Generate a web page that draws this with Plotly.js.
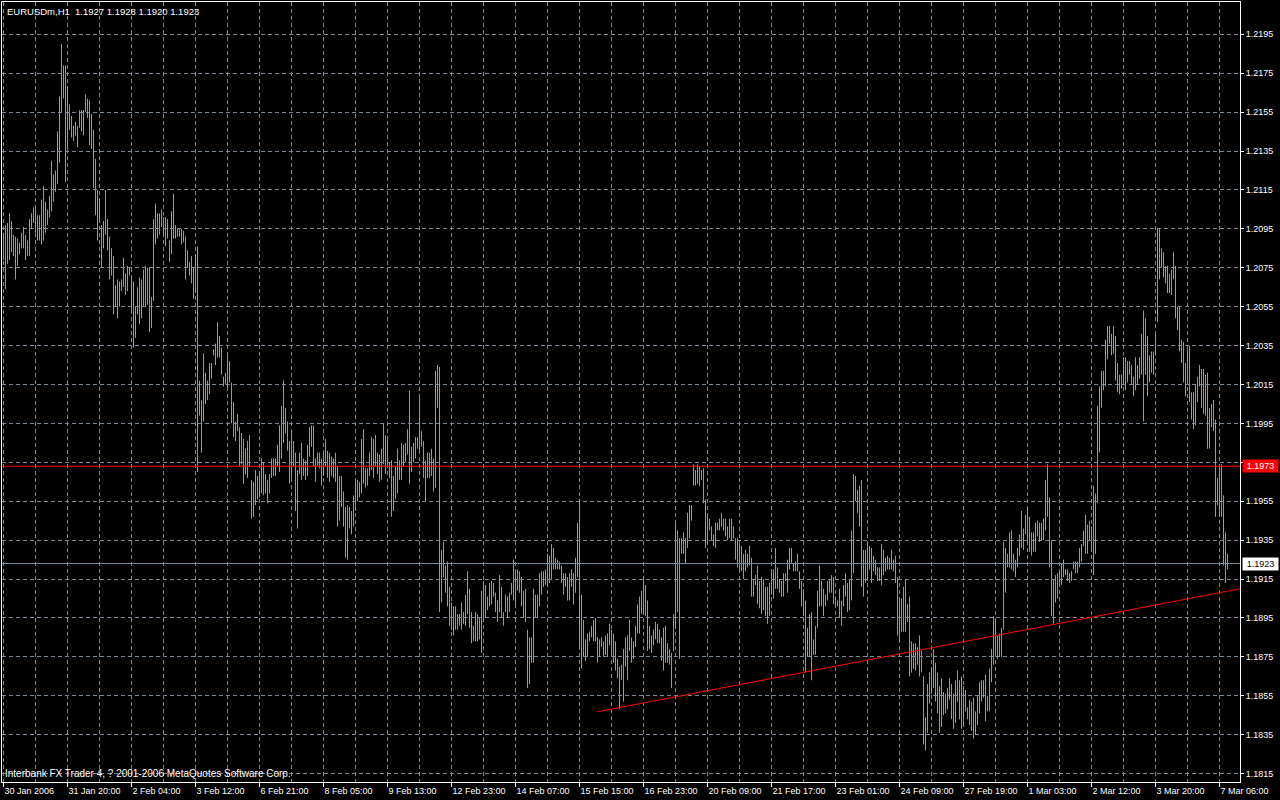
<!DOCTYPE html>
<html><head><meta charset="utf-8">
<script src="https://cdn.plot.ly/plotly-3.0.1.min.js"></script>
<style>html,body{margin:0;padding:0;background:#000;overflow:hidden}#chart{width:1280px;height:800px}</style>
</head><body><div id="chart"></div>
<script>
const headerText = "EURUSDm,H1\u00A0 1.1927 1.1928 1.1920 1.1923";
const footerText = "Interbank FX Trader 4, ? 2001-2006 MetaQuotes Software Corp.";

// hourly bar highs (bar 0 = first bar on the chart)
const highs = [
1.2093,1.2097,1.2098,1.2103,1.2099,1.2092,1.2091,1.2090,1.2088,1.2093,
1.2096,1.2092,1.2089,1.2100,1.2103,1.2106,1.2107,1.2102,1.2102,1.2110,
1.2117,1.2109,1.2105,1.2112,1.2130,1.2123,1.2125,1.2145,1.2163,1.2190,
1.2179,1.2179,1.2168,1.2159,1.2153,1.2148,1.2150,1.2148,1.2156,1.2156,
1.2156,1.2164,1.2162,1.2161,1.2154,1.2146,1.2131,1.2115,1.2110,1.2097,
1.2099,1.2115,1.2100,1.2091,1.2085,1.2081,1.2066,1.2069,1.2068,1.2069,
1.2080,1.2072,1.2076,1.2075,1.2070,1.2068,1.2055,1.2065,1.2070,1.2069,
1.2074,1.2076,1.2075,1.2075,1.2060,1.2100,1.2108,1.2103,1.2103,1.2105,
1.2101,1.2101,1.2100,1.2089,1.2104,1.2113,1.2097,1.2095,1.2095,1.2095,
1.2094,1.2091,1.2084,1.2078,1.2081,1.2075,1.2082,1.2086,1.2017,1.2007,
1.2031,1.2021,1.2017,1.2026,1.2026,1.2033,1.2036,1.2047,1.2040,1.2034,
1.2019,1.2021,1.2030,1.2027,1.2016,1.2006,1.1996,1.2000,1.1993,1.1990,
1.1987,1.1982,1.1986,1.1989,1.1966,1.1965,1.1971,1.1968,1.1969,1.1977,
1.1975,1.1969,1.1966,1.1969,1.1977,1.1977,1.1977,1.1984,1.1994,1.2004,
1.2017,1.2003,1.1996,1.1986,1.1991,1.1986,1.1980,1.1971,1.1980,1.1985,
1.1977,1.1976,1.1984,1.1993,1.1994,1.1994,1.1977,1.1980,1.1980,1.1977,
1.1980,1.1987,1.1981,1.1980,1.1978,1.1977,1.1980,1.1973,1.1968,1.1968,
1.1960,1.1952,1.1953,1.1952,1.1950,1.1958,1.1965,1.1966,1.1965,1.1987,
1.1992,1.1972,1.1972,1.1980,1.1988,1.1987,1.1989,1.1980,1.1979,1.1982,
1.1995,1.1989,1.1988,1.1975,1.1976,1.1968,1.1973,1.1982,1.1976,1.1985,
1.1984,1.1985,1.1992,1.2012,1.1983,1.1985,1.1988,1.1988,1.2008,1.1991,
1.1986,1.1976,1.1980,1.1980,1.1982,1.1977,1.2022,1.2025,1.2024,1.1930,
1.1934,1.1922,1.1924,1.1911,1.1903,1.1901,1.1901,1.1897,1.1897,1.1903,
1.1898,1.1907,1.1919,1.1910,1.1898,1.1891,1.1898,1.1897,1.1895,1.1909,
1.1914,1.1912,1.1906,1.1913,1.1914,1.1913,1.1908,1.1904,1.1917,1.1911,
1.1898,1.1907,1.1906,1.1908,1.1913,1.1925,1.1919,1.1920,1.1919,1.1916,
1.1909,1.1910,1.1889,1.1885,1.1885,1.1910,1.1907,1.1907,1.1918,1.1919,
1.1919,1.1920,1.1928,1.1927,1.1933,1.1931,1.1926,1.1925,1.1924,1.1922,
1.1918,1.1918,1.1916,1.1918,1.1920,1.1918,1.1926,1.1944,1.1956,1.1907,
1.1894,1.1884,1.1887,1.1888,1.1891,1.1894,1.1895,1.1885,1.1884,1.1885,
1.1883,1.1886,1.1887,1.1892,1.1889,1.1887,1.1883,1.1874,1.1870,1.1871,
1.1879,1.1885,1.1886,1.1894,1.1885,1.1883,1.1891,1.1902,1.1906,1.1909,
1.1916,1.1912,1.1904,1.1891,1.1886,1.1889,1.1893,1.1892,1.1889,1.1885,
1.1890,1.1891,1.1882,1.1879,1.1877,1.1897,1.1944,1.1940,1.1936,1.1936,
1.1939,1.1936,1.1949,1.1953,1.1953,1.1974,1.1971,1.1974,1.1973,1.1971,
1.1972,1.1956,1.1948,1.1946,1.1942,1.1938,1.1944,1.1944,1.1946,1.1949,
1.1946,1.1946,1.1942,1.1946,1.1946,1.1942,1.1936,1.1936,1.1933,1.1932,
1.1928,1.1930,1.1928,1.1932,1.1926,1.1915,1.1917,1.1922,1.1914,1.1916,
1.1915,1.1911,1.1911,1.1913,1.1919,1.1920,1.1931,1.1921,1.1915,1.1914,
1.1918,1.1918,1.1925,1.1931,1.1931,1.1923,1.1924,1.1928,1.1919,1.1914,
1.1910,1.1904,1.1890,1.1897,1.1898,1.1884,1.1891,1.1909,1.1922,1.1914,
1.1910,1.1907,1.1914,1.1915,1.1917,1.1916,1.1906,1.1904,1.1910,1.1904,
1.1912,1.1918,1.1913,1.1915,1.1940,1.1969,1.1968,1.1961,1.1963,1.1966,
1.1930,1.1930,1.1934,1.1932,1.1931,1.1927,1.1925,1.1921,1.1921,1.1933,
1.1930,1.1926,1.1927,1.1926,1.1930,1.1925,1.1927,1.1916,1.1905,1.1905,
1.1911,1.1915,1.1902,1.1906,1.1883,1.1882,1.1882,1.1880,1.1886,1.1878,
1.1865,1.1844,1.1861,1.1867,1.1869,1.1879,1.1872,1.1867,1.1860,1.1864,
1.1857,1.1856,1.1859,1.1864,1.1861,1.1856,1.1863,1.1868,1.1863,1.1865,
1.1860,1.1858,1.1849,1.1853,1.1852,1.1854,1.1847,1.1855,1.1862,1.1863,
1.1863,1.1866,1.1855,1.1869,1.1879,1.1896,1.1894,1.1886,1.1887,1.1890,
1.1934,1.1931,1.1928,1.1939,1.1940,1.1928,1.1925,1.1931,1.1938,1.1950,
1.1941,1.1948,1.1951,1.1947,1.1939,1.1939,1.1944,1.1945,1.1944,1.1944,
1.1946,1.1966,1.1974,1.1957,1.1935,1.1915,1.1917,1.1918,1.1919,1.1923,
1.1925,1.1920,1.1920,1.1918,1.1919,1.1924,1.1924,1.1924,1.1931,1.1933,
1.1940,1.1948,1.1943,1.1945,1.1942,1.1963,1.1959,1.2004,1.2014,1.2022,
1.2022,1.2038,1.2045,1.2045,1.2041,1.2045,1.2040,1.2026,1.2020,1.2020,
1.2029,1.2029,1.2027,1.2027,1.2025,1.2019,1.2029,1.2025,1.2029,1.2041,
1.2053,1.2049,1.2040,1.2030,1.2032,1.2032,1.2041,1.2095,1.2095,1.2085,
1.2083,1.2076,1.2076,1.2072,1.2074,1.2083,1.2076,1.2055,1.2055,1.2038,
1.2037,1.2026,1.2033,1.2035,1.2011,1.2011,1.2015,1.2019,1.2025,1.2023,
1.2023,1.2020,1.2021,1.2003,1.2005,1.2007,1.1997,1.1967,1.1972,1.1974,
1.1958,1.1939,1.1928
];

// hourly bar lows
const lows = [
1.2079,1.2064,1.2077,1.2079,1.2083,1.2081,1.2069,1.2076,1.2082,1.2085,
1.2085,1.2079,1.2081,1.2081,1.2095,1.2098,1.2093,1.2089,1.2089,1.2087,
1.2089,1.2093,1.2097,1.2101,1.2104,1.2109,1.2114,1.2118,1.2129,1.2155,
1.2162,1.2119,1.2136,1.2146,1.2142,1.2140,1.2143,1.2137,1.2147,1.2145,
1.2143,1.2155,1.2152,1.2138,1.2136,1.2116,1.2102,1.2089,1.2099,1.2075,
1.2085,1.2092,1.2084,1.2069,1.2071,1.2051,1.2055,1.2049,1.2055,1.2063,
1.2065,1.2061,1.2063,1.2071,1.2053,1.2034,1.2039,1.2051,1.2046,1.2049,
1.2055,1.2055,1.2056,1.2042,1.2044,1.2058,1.2087,1.2090,1.2092,1.2096,
1.2091,1.2086,1.2090,1.2078,1.2082,1.2090,1.2090,1.2091,1.2091,1.2087,
1.2088,1.2069,1.2075,1.2071,1.2067,1.2059,1.2062,1.1970,1.1999,1.1980,
1.1996,1.2005,1.2007,1.2010,1.2018,1.2030,1.2025,1.2029,1.2029,1.2020,
1.2014,1.2015,1.2013,1.2016,1.1995,1.1988,1.1986,1.1991,1.1973,1.1974,
1.1964,1.1969,1.1967,1.1973,1.1946,1.1947,1.1953,1.1956,1.1957,1.1959,
1.1958,1.1959,1.1954,1.1959,1.1967,1.1968,1.1968,1.1973,1.1970,1.1977,
1.1985,1.1990,1.1981,1.1964,1.1967,1.1973,1.1950,1.1941,1.1969,1.1966,
1.1968,1.1966,1.1968,1.1978,1.1983,1.1973,1.1965,1.1973,1.1972,1.1963,
1.1968,1.1973,1.1967,1.1965,1.1968,1.1967,1.1965,1.1942,1.1945,1.1952,
1.1942,1.1926,1.1925,1.1941,1.1938,1.1942,1.1950,1.1955,1.1957,1.1959,
1.1964,1.1962,1.1963,1.1968,1.1971,1.1967,1.1973,1.1969,1.1965,1.1966,
1.1974,1.1969,1.1974,1.1967,1.1947,1.1950,1.1956,1.1959,1.1966,1.1966,
1.1973,1.1975,1.1979,1.1964,1.1970,1.1975,1.1977,1.1982,1.1981,1.1983,
1.1967,1.1955,1.1967,1.1967,1.1968,1.1960,1.1962,1.2003,1.1898,1.1903,
1.1916,1.1908,1.1901,1.1891,1.1889,1.1886,1.1889,1.1889,1.1891,1.1889,
1.1892,1.1891,1.1897,1.1890,1.1882,1.1883,1.1883,1.1883,1.1884,1.1877,
1.1893,1.1895,1.1899,1.1901,1.1902,1.1906,1.1898,1.1893,1.1898,1.1895,
1.1891,1.1898,1.1895,1.1898,1.1907,1.1904,1.1901,1.1909,1.1908,1.1901,
1.1895,1.1893,1.1859,1.1861,1.1872,1.1872,1.1895,1.1895,1.1901,1.1907,
1.1911,1.1912,1.1912,1.1913,1.1915,1.1920,1.1920,1.1920,1.1920,1.1913,
1.1907,1.1911,1.1904,1.1904,1.1911,1.1902,1.1908,1.1916,1.1880,1.1869,
1.1875,1.1873,1.1875,1.1883,1.1885,1.1883,1.1883,1.1872,1.1875,1.1880,
1.1875,1.1876,1.1875,1.1881,1.1876,1.1872,1.1868,1.1864,1.1848,1.1863,
1.1852,1.1870,1.1863,1.1878,1.1872,1.1874,1.1880,1.1887,1.1887,1.1897,
1.1898,1.1896,1.1878,1.1879,1.1877,1.1881,1.1884,1.1882,1.1882,1.1873,
1.1868,1.1872,1.1872,1.1871,1.1859,1.1878,1.1890,1.1898,1.1874,1.1928,
1.1928,1.1923,1.1931,1.1936,1.1945,1.1963,1.1963,1.1964,1.1963,1.1966,
1.1954,1.1931,1.1933,1.1940,1.1935,1.1932,1.1931,1.1940,1.1940,1.1942,
1.1940,1.1937,1.1935,1.1936,1.1935,1.1936,1.1925,1.1921,1.1920,1.1919,
1.1915,1.1919,1.1921,1.1922,1.1906,1.1906,1.1912,1.1902,1.1900,1.1897,
1.1899,1.1896,1.1892,1.1896,1.1907,1.1905,1.1910,1.1910,1.1908,1.1906,
1.1906,1.1914,1.1908,1.1920,1.1923,1.1919,1.1919,1.1919,1.1910,1.1901,
1.1896,1.1867,1.1875,1.1875,1.1863,1.1876,1.1876,1.1890,1.1901,1.1901,
1.1896,1.1901,1.1904,1.1908,1.1908,1.1902,1.1901,1.1901,1.1895,1.1891,
1.1901,1.1906,1.1898,1.1899,1.1904,1.1918,1.1955,1.1949,1.1942,1.1911,
1.1906,1.1913,1.1914,1.1920,1.1913,1.1919,1.1917,1.1914,1.1914,1.1912,
1.1917,1.1919,1.1920,1.1920,1.1920,1.1919,1.1913,1.1886,1.1883,1.1888,
1.1888,1.1888,1.1893,1.1865,1.1867,1.1869,1.1868,1.1871,1.1865,1.1867,
1.1830,1.1827,1.1836,1.1851,1.1856,1.1859,1.1852,1.1846,1.1836,1.1839,
1.1845,1.1846,1.1848,1.1853,1.1843,1.1838,1.1841,1.1852,1.1843,1.1838,
1.1840,1.1847,1.1843,1.1840,1.1837,1.1833,1.1835,1.1840,1.1846,1.1852,
1.1854,1.1842,1.1847,1.1847,1.1862,1.1871,1.1877,1.1874,1.1875,1.1875,
1.1889,1.1908,1.1921,1.1921,1.1920,1.1919,1.1916,1.1921,1.1927,1.1931,
1.1930,1.1938,1.1935,1.1929,1.1927,1.1929,1.1929,1.1937,1.1934,1.1935,
1.1935,1.1940,1.1947,1.1921,1.1896,1.1892,1.1903,1.1905,1.1912,1.1912,
1.1916,1.1917,1.1914,1.1913,1.1914,1.1920,1.1918,1.1918,1.1921,1.1924,
1.1932,1.1928,1.1928,1.1935,1.1929,1.1917,1.1928,1.1954,1.1980,1.2003,
1.2012,1.2014,1.2028,1.2036,1.2030,1.2031,1.2017,1.2011,1.2010,1.2013,
1.2015,1.2012,1.2016,1.2020,1.2015,1.2009,1.2012,1.2015,1.2018,1.2020,
1.1996,1.2020,1.2009,1.2016,1.2021,1.2020,1.2031,1.2047,1.2069,1.2075,
1.2070,1.2067,1.2062,1.2062,1.2061,1.2069,1.2049,1.2043,1.2032,1.2026,
1.2016,1.2009,1.2016,1.2006,1.1997,1.1992,1.1994,1.2006,1.2014,1.2003,
1.2000,1.1999,1.1982,1.1982,1.1993,1.1991,1.1947,1.1953,1.1947,1.1947,
1.1922,1.1913,1.1920
];

// time axis: labelled bars and grid bars
const tickBars = [0,32,64,96,128,160,192,224,256,288,320,352,384,416,448,480,512,544,576,608];
const tickLabels = ["30 Jan 2006","31 Jan 20:00","2 Feb 04:00","3 Feb 12:00","6 Feb 21:00","8 Feb 05:00","9 Feb 13:00","12 Feb 23:00","14 Feb 07:00","15 Feb 15:00","16 Feb 23:00","20 Feb 09:00","21 Feb 17:00","23 Feb 01:00","24 Feb 09:00","27 Feb 19:00","1 Mar 03:00","2 Mar 12:00","3 Mar 20:00","7 Mar 06:00"];
const gridBars = [16,48,80,112,144,176,208,240,272,304,336,368,400,432,464,496,528,560,592];
const priceTicks = [1.1815,1.1835,1.1855,1.1875,1.1895,1.1915,1.1935,1.1955,1.1975,1.1995,1.2015,1.2035,1.2055,1.2075,1.2095,1.2115,1.2135,1.2155,1.2175,1.2195];
// price tick labels; the 1.1975 label is hidden behind the red level tag in the terminal
const priceTickLabels = ["1.1815","1.1835","1.1855","1.1875","1.1895","1.1915","1.1935","1.1955","","1.1995","1.2015","1.2035","1.2055","1.2075","1.2095","1.2115","1.2135","1.2155","1.2175","1.2195"];

const resistanceLevel = 1.1973;
const bidPrice = 1.1923;
const trendBars = [297, 618.25];
const trendPrices = [1.18468, 1.19100];

const barX = [], barY = [];
for (let i = 0; i < highs.length; i++) {
  barX.push(i, i, null);
  barY.push(lows[i], highs[i], null);
}

const gridColor = '#778899';
const fontFam = 'Liberation Sans, Arial, sans-serif';
const wfont = {family: fontFam, size: 9, color: '#ffffff'};

const traces = [
  {type: 'scatter', mode: 'lines', x: barX, y: barY, line: {color: '#22ee22', width: 1}, hoverinfo: 'skip', connectgaps: false},
  {type: 'scatter', mode: 'lines', x: trendBars, y: trendPrices, line: {color: '#ff0000', width: 1}, hoverinfo: 'skip'}
];

const layout = {
  width: 1280, height: 800,
  margin: {l: 2, r: 40, t: 2, b: 18, pad: 0},
  paper_bgcolor: '#000000', plot_bgcolor: '#000000',
  showlegend: false, font: wfont,
  xaxis: {
    range: [-0.75, 618.25], tickmode: 'array', tickvals: tickBars, ticktext: tickLabels,
    ticks: 'outside', ticklen: 4, tickcolor: '#ffffff', tickwidth: 1,
    ticklabelposition: 'outside right', tickfont: wfont,
    showgrid: true, gridcolor: gridColor, griddash: '4px,3px', gridwidth: 1,
    minor: {tickmode: 'array', tickvals: gridBars, showgrid: true, gridcolor: gridColor, griddash: '4px,3px', gridwidth: 1, ticks: ''},
    showline: true, mirror: true, linecolor: '#ffffff', linewidth: 1,
    zeroline: false, fixedrange: true, automargin: false
  },
  yaxis: {
    range: [1.18107, 1.22116], side: 'right', tickmode: 'array', tickvals: priceTicks, ticktext: priceTickLabels,
    ticks: 'outside', ticklen: 3, tickcolor: '#ffffff', tickwidth: 1, tickfont: wfont,
    showgrid: true, gridcolor: gridColor, griddash: '4px,3px', gridwidth: 1,
    showline: true, mirror: true, linecolor: '#ffffff', linewidth: 1,
    zeroline: false, fixedrange: true, automargin: false
  },
  shapes: [
    {type: 'line', xref: 'paper', x0: 0, x1: 1, yref: 'y', y0: resistanceLevel, y1: resistanceLevel, line: {color: '#ff0000', width: 1}},
    {type: 'line', xref: 'paper', x0: 0, x1: 1, yref: 'y', y0: bidPrice, y1: bidPrice, line: {color: gridColor, width: 1}}
  ],
  annotations: [
    {xref: 'paper', yref: 'paper', x: 0, y: 1, xanchor: 'left', yanchor: 'top', xshift: 3, yshift: -2, text: headerText, showarrow: false, font: {family: fontFam, size: 9.5, color: '#ffffff'}},
    {xref: 'paper', yref: 'paper', x: 0, y: 0, xanchor: 'left', yanchor: 'bottom', xshift: 1, yshift: 1, text: footerText, showarrow: false, font: {family: fontFam, size: 10, color: '#ffffff'}},
    {xref: 'paper', yref: 'y', x: 1, y: resistanceLevel, xanchor: 'left', yanchor: 'middle', xshift: 2, text: resistanceLevel.toFixed(4), showarrow: false, bgcolor: '#ff0000', width: 33, height: 10, borderpad: 1, font: {family: fontFam, size: 9, color: '#ffffff'}},
    {xref: 'paper', yref: 'y', x: 1, y: bidPrice, xanchor: 'left', yanchor: 'middle', xshift: 2, text: bidPrice.toFixed(4), showarrow: false, bgcolor: '#ffffff', width: 33, height: 10, borderpad: 1, font: {family: fontFam, size: 9, color: '#000000'}}
  ]
};

Plotly.newPlot('chart', traces, layout, {staticPlot: true, displayModeBar: false});
</script>
</body></html>
